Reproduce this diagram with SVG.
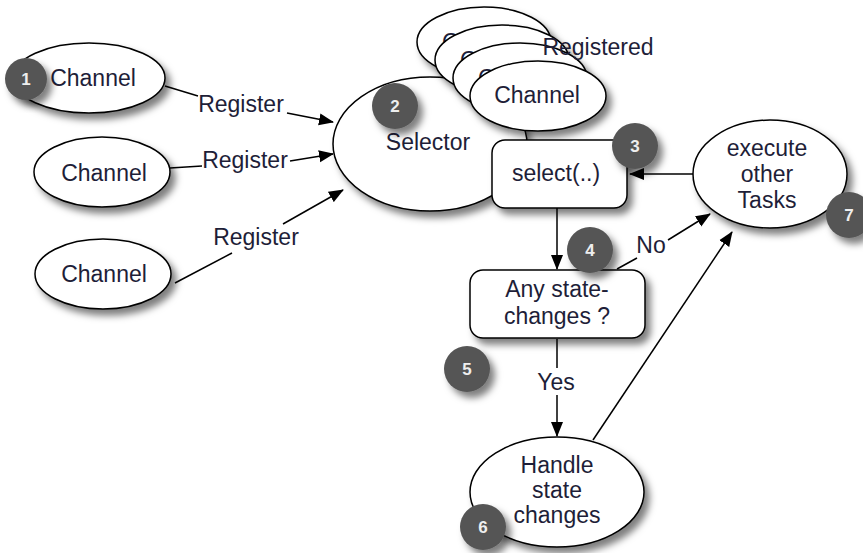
<svg xmlns="http://www.w3.org/2000/svg" width="863" height="553" viewBox="0 0 863 553">
<defs>
<filter id="sh" x="-20%" y="-20%" width="150%" height="150%">
<feDropShadow dx="5" dy="6" stdDeviation="3.5" flood-color="#000" flood-opacity="0.5"/>
</filter>
<marker id="ah" markerUnits="userSpaceOnUse" markerWidth="15" markerHeight="13" refX="14" refY="6.5" orient="auto">
<path d="M0,0.5 L15,6.5 L0,12.5 z" fill="#000"/>
</marker>
</defs>
<style>
.n{fill:#fff;stroke:#000;stroke-width:1.5;filter:url(#sh)}
.t{font-family:"Liberation Sans",Arial,sans-serif;font-size:23px;fill:#1e1e38;text-anchor:middle}
.s{text-anchor:start}
.c line{stroke:#000;stroke-width:1.5}
.b circle{fill:#555;filter:url(#sh)}
.b text{font-family:"Liberation Sans",Arial,sans-serif;font-size:17px;font-weight:bold;fill:#eee;text-anchor:middle}
</style>
<rect width="863" height="553" fill="#fff"/>

<g id="selector">
<ellipse class="n" cx="430" cy="144" rx="97" ry="67"/>
<text class="t" x="428" y="150">Selector</text>
</g>

<g id="registered-channels">
<ellipse class="n" cx="484" cy="42" rx="67" ry="35"/>
<text class="t s" x="442" y="50">C</text>
<ellipse class="n" cx="502" cy="60" rx="67" ry="35"/>
<text class="t s" x="460" y="68">C</text>
<ellipse class="n" cx="520" cy="78" rx="67" ry="35"/>
<text class="t s" x="478" y="86">C</text>
<ellipse class="n" cx="538" cy="96" rx="68" ry="35"/>
<text class="t" x="537" y="103">Channel</text>
<text class="t" x="598" y="55">Registered</text>
</g>

<g id="channel1">
<ellipse class="n" cx="89" cy="78" rx="76" ry="35"/>
<text class="t" x="93" y="86">Channel</text>
</g>
<g id="channel2">
<ellipse class="n" cx="102" cy="172" rx="68" ry="35"/>
<text class="t" x="104" y="181">Channel</text>
</g>
<g id="channel3">
<ellipse class="n" cx="103" cy="274" rx="68" ry="35"/>
<text class="t" x="104" y="282">Channel</text>
</g>

<g id="select">
<rect class="n" x="492" y="140" width="135" height="68" rx="13"/>
<text class="t" x="556" y="181">select(..)</text>
</g>

<g id="execute">
<ellipse class="n" cx="770" cy="174" rx="77" ry="54"/>
<text class="t" x="767" y="156">execute</text>
<text class="t" x="767" y="182">other</text>
<text class="t" x="767" y="208">Tasks</text>
</g>

<g id="any-state-changes">
<rect class="n" x="470" y="270" width="175" height="68" rx="13"/>
<text class="t" x="557" y="297">Any state-</text>
<text class="t" x="557" y="324">changes ?</text>
</g>

<g id="handle">
<ellipse class="n" cx="557" cy="492" rx="87" ry="55"/>
<text class="t" x="557" y="473">Handle</text>
<text class="t" x="557" y="498">state</text>
<text class="t" x="557" y="523">changes</text>
</g>

<g id="connectors" class="c">
<line x1="165" y1="86" x2="198" y2="96"/>
<line x1="287" y1="113" x2="333" y2="122" marker-end="url(#ah)"/>
<line x1="170" y1="168" x2="202" y2="166"/>
<line x1="290" y1="161" x2="333" y2="154" marker-end="url(#ah)"/>
<line x1="175" y1="283" x2="232" y2="253"/>
<line x1="283" y1="224" x2="343" y2="190" marker-end="url(#ah)"/>
<line x1="693" y1="174" x2="630" y2="174" marker-end="url(#ah)"/>
<line x1="557" y1="208" x2="557" y2="269" marker-end="url(#ah)"/>
<line x1="617" y1="269" x2="637" y2="258"/>
<line x1="668" y1="240" x2="710" y2="214" marker-end="url(#ah)"/>
<line x1="557" y1="339" x2="557" y2="368"/>
<line x1="557" y1="395" x2="557" y2="436" marker-end="url(#ah)"/>
<line x1="593" y1="440" x2="732" y2="232" marker-end="url(#ah)"/>
<text class="t" x="241" y="112">Register</text>
<text class="t" x="245" y="168">Register</text>
<text class="t" x="256" y="245">Register</text>
<text class="t" x="651" y="253">No</text>
<text class="t" x="556" y="390">Yes</text>
</g>

<g id="badges" class="b">
<g id="b1"><circle cx="26" cy="79" r="21"/><text x="26" y="85">1</text></g>
<g id="b2"><circle cx="395" cy="106" r="23"/><text x="395" y="112">2</text></g>
<g id="b3"><circle cx="635" cy="146" r="23"/><text x="635" y="152">3</text></g>
<g id="b4"><circle cx="590" cy="250" r="23"/><text x="590" y="256">4</text></g>
<g id="b5"><circle cx="467" cy="369" r="23"/><text x="467" y="375">5</text></g>
<g id="b6"><circle cx="483" cy="527" r="23"/><text x="483" y="533">6</text></g>
<g id="b7"><circle cx="849" cy="215" r="23"/><text x="849" y="221">7</text></g>
</g>
</svg>
